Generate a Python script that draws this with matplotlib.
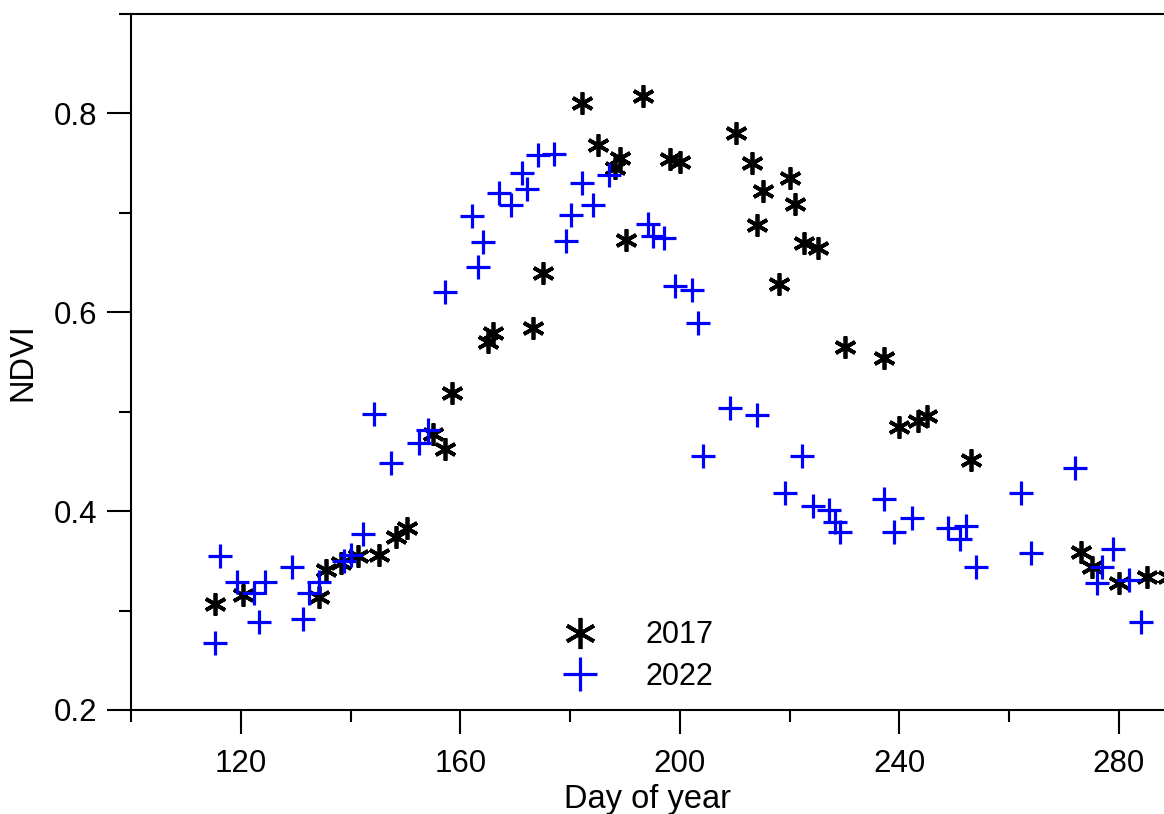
import numpy as np
import matplotlib
matplotlib.use("Agg")
import matplotlib.pyplot as plt
from matplotlib.markers import MarkerStyle
from matplotlib.ticker import MultipleLocator

plt.rcParams['font.family'] = ['Liberation Sans', 'DejaVu Sans']

# NDVI 2017 (asterisks)
doy_2017 = [115.3, 120.4, 134.2, 135.5, 138.2, 141.3, 145.1, 148.2, 150.2, 155.1,
            157.3, 158.4, 165.1, 166.0, 173.3, 175.1, 190.2, 182.2, 193.3, 185.1,
            189.1, 188.2, 198.2, 200.0, 210.2, 213.1, 215.1, 214.0, 220.0, 220.9,
            218.0, 222.7, 225.1, 230.0, 237.1, 240.0, 243.3, 245.1, 253.1, 273.1,
            275.1, 280.0, 285.1, 289.0]
ndvi_2017 = [0.307, 0.316, 0.314, 0.341, 0.348, 0.355, 0.356, 0.374, 0.383, 0.478,
             0.462, 0.519, 0.570, 0.579, 0.584, 0.639, 0.673, 0.810, 0.818, 0.768,
             0.755, 0.745, 0.754, 0.751, 0.780, 0.750, 0.722, 0.688, 0.735, 0.709,
             0.628, 0.670, 0.665, 0.565, 0.554, 0.485, 0.491, 0.496, 0.451, 0.359,
             0.344, 0.328, 0.334, 0.334]

# NDVI 2022 (plus signs)
doy_2022 = [115.3, 116.2, 119.3, 122.4, 124.4, 123.3, 129.3, 131.3, 132.4, 134.2,
            138.8, 140.0, 142.2, 144.2, 147.3, 152.4, 154.2, 157.3, 163.3, 164.2,
            162.2, 167.1, 169.3, 172.2, 171.3, 174.2, 177.1, 179.3, 180.2, 182.2,
            184.2, 187.1, 194.2, 195.1, 197.1, 199.1, 202.2, 203.3, 209.1, 214.0,
            204.2, 222.2, 219.1, 224.2, 227.1, 228.2, 229.1, 237.1, 239.1, 242.2,
            248.9, 252.2, 251.1, 254.0, 262.2, 264.0, 272.0, 278.9, 276.9, 276.0,
            281.8, 284.0]
ndvi_2022 = [0.267, 0.355, 0.329, 0.318, 0.329, 0.288, 0.344, 0.291, 0.318, 0.329,
             0.350, 0.356, 0.377, 0.498, 0.448, 0.469, 0.482, 0.620, 0.646, 0.671,
             0.697, 0.720, 0.708, 0.724, 0.740, 0.758, 0.759, 0.672, 0.698, 0.730,
             0.708, 0.738, 0.689, 0.677, 0.675, 0.626, 0.622, 0.589, 0.504, 0.497,
             0.455, 0.455, 0.418, 0.405, 0.401, 0.389, 0.379, 0.412, 0.379, 0.393,
             0.383, 0.385, 0.372, 0.344, 0.418, 0.358, 0.443, 0.362, 0.344, 0.328,
             0.331, 0.288]

fig = plt.figure(figsize=(11.64, 8.14), dpi=100)
ax = fig.add_axes([0.1125, 0.1278, 0.8875, 0.855])

star = MarkerStyle((6, 2, 0), capstyle='round')
ax.plot(doy_2017, ndvi_2017, linestyle='none', marker=star, markersize=16,
        markeredgewidth=2.7, color='black', label='2017', clip_on=False)
ax.plot(doy_2022, ndvi_2022, linestyle='none', marker='+', markersize=17,
        markeredgewidth=2.3, color='#0000ff', label='2022', clip_on=False)

ax.set_xlim(100, 288.2)
ax.set_ylim(0.2, 0.9)
ax.xaxis.set_major_locator(MultipleLocator(40))
ax.xaxis.set_minor_locator(MultipleLocator(20))
ax.yaxis.set_major_locator(MultipleLocator(0.2))
ax.yaxis.set_minor_locator(MultipleLocator(0.1))
ax.xaxis.set_major_formatter(lambda v, p: f"{v:.0f}")
ax.yaxis.set_major_formatter(lambda v, p: f"{v:.1f}")

ax.tick_params(which='major', direction='out', length=17, width=1.5,
               labelsize=22.5, pad=11)
ax.tick_params(which='minor', direction='out', length=8.6, width=1.5)
ax.tick_params(axis='y', which='major', pad=7)

for s in ['left', 'bottom', 'top']:
    ax.spines[s].set_linewidth(1.5)
ax.spines['right'].set_visible(False)

ax.set_xlabel('Day of year', fontsize=23.5, labelpad=4)
ax.set_ylabel('NDVI', fontsize=23.5, labelpad=11)

ax.legend(loc='center left', bbox_to_anchor=(0.455, 0.194),
          bbox_transform=fig.transFigure, frameon=False, fontsize=22,
          markerscale=1.4, handletextpad=1.4, labelspacing=0.38,
          handlelength=1.5)

fig.savefig('out.png', dpi=100)
